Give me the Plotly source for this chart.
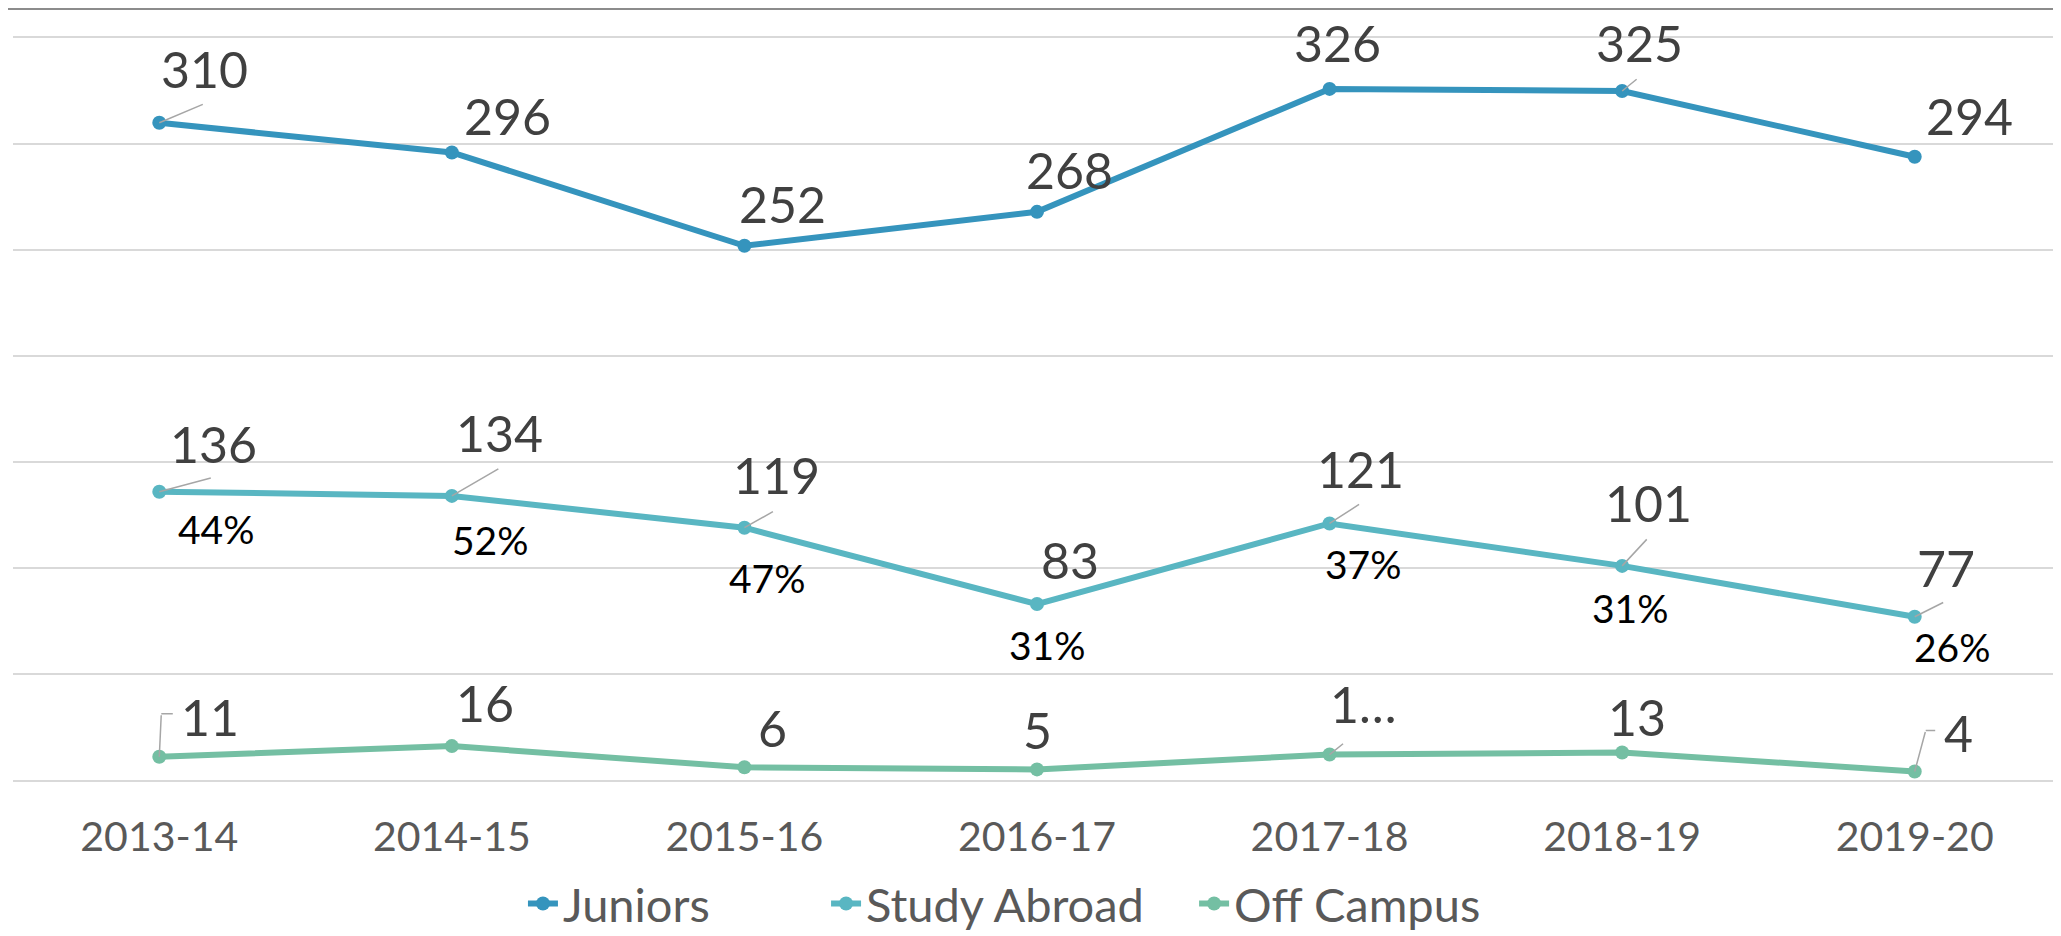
import plotly.graph_objects as go

# ---------------- data ----------------
years = ["2013-14", "2014-15", "2015-16", "2016-17", "2017-18", "2018-19", "2019-20"]
juniors = [310, 296, 252, 268, 326, 325, 294]
study_abroad = [136, 134, 119, 83, 121, 101, 77]
off_campus = [11, 16, 6, 5, 12, 13, 4]
off_campus_text = ["11", "16", "6", "5", "1…", "13", "4"]
study_abroad_pct = ["44%", "52%", "47%", "31%", "37%", "31%", "26%"]
series_names = ["Juniors", "Study Abroad", "Off Campus"]

# ---------------- styling ----------------
FONT = "Lato"
C_J = "#3594BD"
C_S = "#59B6C2"
C_O = "#74BFA3"
LBL = "#404040"
LEAD = "#A6A6A6"
LBL_SIZE = 50
PCT_SIZE = 39

# label offsets (pixels, label centre relative to point; +y = up)
j_off = [(45, 54), (56, 36), (38, 42), (32, 42), (8, 46), (17, 48), (55, 41)]
s_off = [(54, 48), (48, 63), (32, 53), (33, 44), (31, 54), (26, 63), (31, 49)]
p_off = [(57, -37), (39, -44), (23, -50), (10, -41), (34, -41), (8, -42), (38, -30)]
o_off = [(51, 40), (33, 43), (28, 39), (0, 39), (34, 51), (15, 35), (44, 39)]

# leader lines: (series values, index, tail dx, tail dy(+down))
leaders = [
    (juniors, 0, 45, -19), (juniors, 5, 16, -13),
    (study_abroad, 0, 53, -14), (study_abroad, 1, 48, -28), (study_abroad, 2, 30, -17),
    (study_abroad, 4, 31, -20), (study_abroad, 5, 26, -28), (study_abroad, 6, 30, -15),
    (off_campus, 4, 15, -12),
]
# elbow leaders: (series, index, corner dx, corner dy(+down), horizontal length)
elbows = [(off_campus, 0, 2, -43, 13), (off_campus, 6, 11, -41, 11)]

# legend left edges (paper x)
leg_x = [0.249, 0.397, 0.5767]

fig = go.Figure()
for k, (name, vals, col) in enumerate(zip(series_names, [juniors, study_abroad, off_campus],
                                          [C_J, C_S, C_O])):
    fig.add_trace(go.Scatter(
        x=years, y=vals, name=name, mode="lines+markers",
        line=dict(color=col, width=6), marker=dict(color=col, size=14),
        legend="legend" if k == 0 else f"legend{k+1}",
        hoverinfo="skip"))

ann = []
def lab(x, y, text, off, size, color):
    ann.append(dict(x=x, y=y, xref="x", yref="y", text=text, showarrow=False,
                    xanchor="center", yanchor="middle", xshift=off[0], yshift=off[1],
                    font=dict(family=FONT, size=size, color=color)))

for i, yr in enumerate(years):
    lab(yr, juniors[i], str(juniors[i]), j_off[i], LBL_SIZE, LBL)
    lab(yr, study_abroad[i], str(study_abroad[i]), s_off[i], LBL_SIZE, LBL)
    lab(yr, study_abroad[i], study_abroad_pct[i], p_off[i], PCT_SIZE, "#000000")
    lab(yr, off_campus[i], off_campus_text[i], o_off[i], LBL_SIZE, LBL)

for vals, i, dx, dy in leaders:
    ann.append(dict(x=years[i], y=vals[i], xref="x", yref="y", text="", showarrow=True,
                    arrowhead=0, arrowwidth=1.5, arrowcolor=LEAD, standoff=0,
                    ax=dx, ay=dy))
for vals, i, dx, dy, h in elbows:
    ann.append(dict(x=years[i], y=vals[i], xref="x", yref="y", text="", showarrow=True,
                    arrowhead=0, arrowwidth=1.5, arrowcolor=LEAD, standoff=0,
                    ax=dx, ay=dy))
    ann.append(dict(x=years[i], y=vals[i], xref="x", yref="y", text="", showarrow=True,
                    arrowhead=0, arrowwidth=1.5, arrowcolor=LEAD, standoff=0,
                    xshift=dx, yshift=-dy, ax=h, ay=0))

leg_common = dict(orientation="h", xanchor="left", y=-0.1671, yanchor="middle",
                  font=dict(family=FONT, size=47, color="#595959"),
                  bgcolor="rgba(0,0,0,0)", itemwidth=30)

# the page adds an 8px body margin, so the figure is 8px smaller each way
fig.update_layout(
    width=2053, height=928, autosize=False,
    margin=dict(l=5, r=0, t=30, b=156, autoexpand=False),
    paper_bgcolor="white", plot_bgcolor="white",
    showlegend=True,
    legend=dict(x=leg_x[0], **leg_common),
    legend2=dict(x=leg_x[1], **leg_common),
    legend3=dict(x=leg_x[2], **leg_common),
    annotations=ann,
    shapes=[dict(type="line", xref="paper", yref="paper", x0=-0.01, x1=1.0,
                 y0=1.0391, y1=1.0391, line=dict(color="#8C8C8C", width=2))],
    hovermode=False,
)
fig.update_xaxes(type="category", range=[-0.5, 6.5], showgrid=False, zeroline=False,
                 showline=True, mirror=True, linecolor="#D9D9D9", linewidth=2,
                 ticks="outside", ticklen=20, tickcolor="rgba(0,0,0,0)", automargin=False,
                 tickfont=dict(family=FONT, size=41, color="#595959"))
fig.update_yaxes(range=[0, 350], dtick=50, showgrid=True, gridcolor="#D9D9D9", gridwidth=2,
                 zeroline=False, showticklabels=False, showline=False, automargin=False)

fig.write_html("out.html")
